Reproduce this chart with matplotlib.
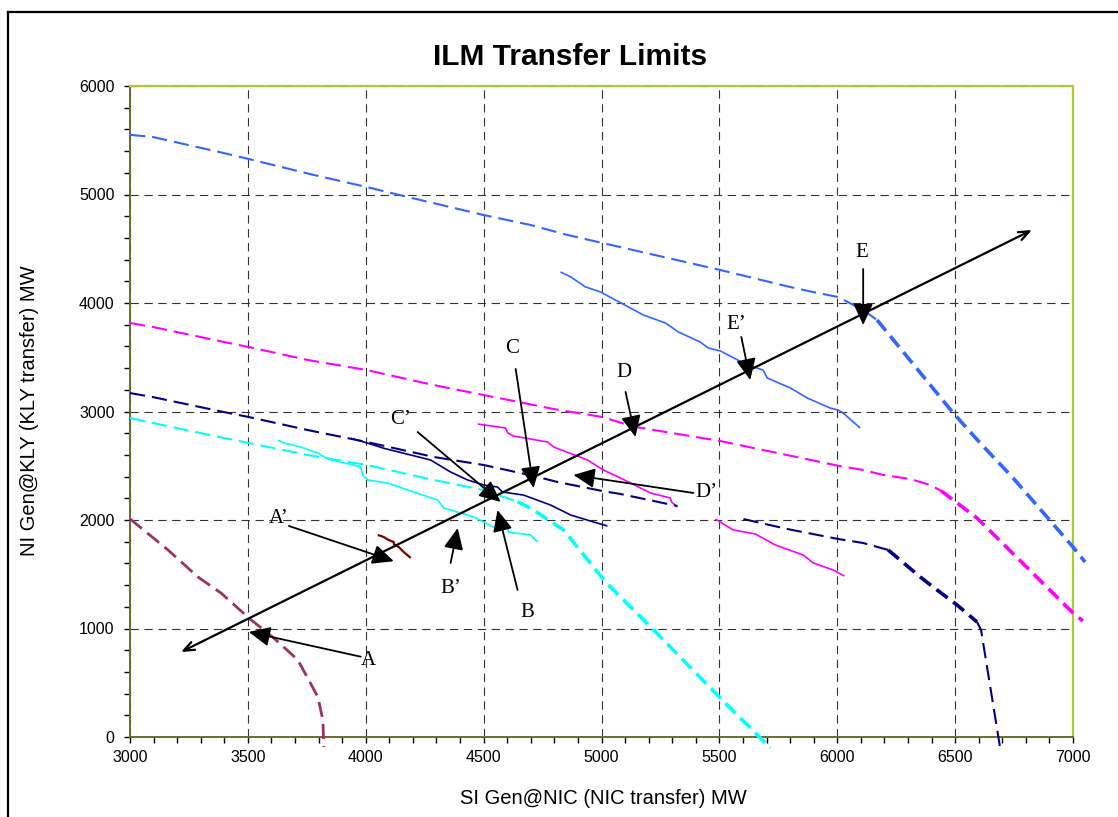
import numpy as np
import matplotlib
matplotlib.use("Agg")
import matplotlib.pyplot as plt
from matplotlib.lines import Line2D

plt.rcParams['lines.scale_dashes'] = False
plt.rcParams['font.family'] = ['Liberation Sans', 'DejaVu Sans']

# ---------------- data (MW) ----------------
# E limit (blue dashed): flat part and steep part
e_lim_x = [3000, 3097, 3398, 3504, 3780, 4004, 4161, 4500, 4699, 4856, 5004, 5504, 5801, 5898, 6004, 6110, 6169]
e_lim_y = [5550, 5530, 5382, 5327, 5180, 5069, 4986, 4811, 4719, 4627, 4553, 4304, 4147, 4101, 4055, 3935, 3843]
e_lim2_x = [6169, 6492, 6606, 6746, 7000, 7051]
e_lim2_y = [3843, 2986, 2710, 2387, 1751, 1613]
# E' limit (blue solid)
e_p_x = [4826, 4870, 4930, 4996, 5178, 5271, 5326, 5419, 5453, 5504, 5619, 5686, 5703, 5801, 5873, 5970, 6004, 6025, 6097]
e_p_y = [4286, 4240, 4150, 4101, 3889, 3816, 3733, 3640, 3585, 3558, 3428, 3382, 3309, 3217, 3124, 3032, 3014, 2986, 2848]
# D limit (magenta dashed)
d_lim_x = [3000, 3097, 3398, 3504, 3754, 4004, 4288, 4500, 4712, 4797, 5004, 5137, 5504, 6004, 6110, 6195, 6309, 6394, 6440]
d_lim_y = [3816, 3779, 3641, 3594, 3475, 3382, 3244, 3152, 3060, 3023, 2949, 2860, 2728, 2500, 2461, 2415, 2378, 2323, 2270]
d_lim2_x = [6440, 6593, 7000, 7042]
d_lim2_y = [2270, 2018, 1143, 1069]
# D' limit (magenta solid), two pieces
d_p1_x = [4475, 4593, 4602, 4627, 4771, 4797, 4941, 5008, 5080, 5208, 5292, 5297, 5322]
d_p1_y = [2885, 2848, 2802, 2774, 2719, 2673, 2553, 2461, 2387, 2249, 2203, 2166, 2120]
d_p2_x = [5483, 5559, 5653, 5737, 5856, 5898, 5983, 6030]
d_p2_y = [2009, 1908, 1871, 1770, 1677, 1604, 1539, 1484]
# C limit (navy dashed), pieces
c_lim1_x = [3000, 3097, 3398, 3504, 3754, 4004, 4288, 4500, 4712, 4814, 5004, 5080, 5322]
c_lim1_y = [3170, 3133, 2995, 2949, 2829, 2719, 2581, 2507, 2406, 2350, 2267, 2240, 2129]
c_lim2_x = [5602, 5788, 6004, 6110, 6216]
c_lim2_y = [2009, 1917, 1825, 1788, 1724]
c_lim3_x = [6216, 6352, 6407, 6508, 6593]
c_lim3_y = [1724, 1475, 1382, 1217, 1060]
c_lim4_x = [6593, 6610, 6691]
c_lim4_y = [1060, 986, -101]
# C' limit (navy solid)
c_p_x = [3936, 3993, 4078, 4191, 4275, 4360, 4432, 4500, 4559, 4580, 4669, 4784, 4869, 4966, 5025]
c_p_y = [2753, 2719, 2660, 2599, 2553, 2442, 2369, 2323, 2304, 2258, 2230, 2138, 2046, 1982, 1945]
# B limit (cyan dashed)
b_lim_x = [3000, 3097, 3398, 3504, 3754, 4004, 4288, 4500, 4585, 4644]
b_lim_y = [2940, 2894, 2756, 2710, 2599, 2507, 2369, 2276, 2212, 2170]
b_lim2_x = [4644, 4712, 4839, 5017, 5215, 5504, 5674, 5716]
b_lim2_y = [2170, 2092, 1908, 1429, 1000, 359, -9, -101]
# B' limit (cyan solid)
b_p_x = [3627, 3653, 3724, 3797, 3839, 3949, 3979, 3987, 4008, 4093, 4203, 4305, 4331, 4458, 4500, 4542, 4602, 4606, 4699, 4729]
b_p_y = [2737, 2710, 2673, 2617, 2562, 2507, 2488, 2415, 2369, 2341, 2258, 2184, 2111, 2028, 1982, 1935, 1935, 1889, 1862, 1797]
# A limit (maroon dashed)
a_lim_x = [3000, 3161, 3288, 3386, 3504, 3610, 3712, 3797, 3818, 3822]
a_lim_y = [2010, 1724, 1475, 1327, 1097, 912, 710, 369, 157, -92]
# A' limit (dark red solid)
a_p_x = [4051, 4064, 4076, 4097, 4119, 4119, 4140, 4161, 4191]
a_p_y = [1862, 1853, 1843, 1816, 1797, 1779, 1751, 1705, 1650]

# transfer direction arrow
dir_start = (3216, 783)
dir_end = (6826, 4673)

# annotation labels: text position, arrow tail, arrow tip
ann_labels = ["A", "A\u2019", "B\u2019", "B", "C\u2019", "C", "D", "D\u2019", "E\u2019", "E"]
ann_text_x = [4013, 3630, 4360, 4686, 4148, 4619, 5097, 5445, 5572, 6106]
ann_text_y = [705, 2010, 1373, 1152, 2922, 3585, 3364, 2258, 3806, 4470]
ann_tail_x = [3979, 3674, 4360, 4644, 4220, 4636, 5102, 5390, 5593, 6110]
ann_tail_y = [740, 1945, 1604, 1355, 2811, 3392, 3180, 2249, 3687, 4313]
ann_tip_x = [3504, 4119, 4390, 4559, 4572, 4712, 5144, 4881, 5631, 6110]
ann_tip_y = [968, 1620, 1926, 2092, 2166, 2295, 2765, 2415, 3290, 3797]

x_ticks = [3000, 3500, 4000, 4500, 5000, 5500, 6000, 6500, 7000]
y_ticks = [0, 1000, 2000, 3000, 4000, 5000, 6000]

# ---------------- figure ----------------
fig = plt.figure(figsize=(11.18, 8.17), dpi=100)
ax = fig.add_axes([130 / 1118, 1 - 737 / 817, (1073 - 130) / 1118, (737 - 86) / 817])

BLUE = '#3366FF'
MAG = '#FF00FF'
NAVY = '#000080'
CYAN = '#00FFFF'
MAROON = '#993366'
DRED = '#800000'

thin_d = (0, (11, 5))
thick_d = (0, (10, 5))

def dline(x, y, c, lw, ls):
    ax.plot(x, y, color=c, lw=lw, ls=ls, clip_on=False, zorder=3, solid_capstyle='butt', dash_capstyle='butt')

dline(e_lim_x, e_lim_y, BLUE, 1.5, thin_d)
dline(e_lim2_x, e_lim2_y, BLUE, 2.6, thick_d)
dline(e_p_x, e_p_y, BLUE, 1.2, '-')
dline(d_lim_x, d_lim_y, MAG, 1.5, thin_d)
dline(d_lim2_x, d_lim2_y, MAG, 2.6, thick_d)
dline(d_p1_x, d_p1_y, MAG, 1.2, '-')
dline(d_p2_x, d_p2_y, MAG, 1.2, '-')
dline(c_lim1_x, c_lim1_y, NAVY, 1.5, thin_d)
dline(c_lim2_x, c_lim2_y, NAVY, 1.5, thin_d)
dline(c_lim3_x, c_lim3_y, NAVY, 2.6, thick_d)
dline(c_lim4_x, c_lim4_y, NAVY, 1.5, thin_d)
dline(c_p_x, c_p_y, NAVY, 1.2, '-')
dline(b_lim_x, b_lim_y, CYAN, 1.5, thin_d)
dline(b_lim2_x, b_lim2_y, CYAN, 2.6, thick_d)
dline(b_p_x, b_p_y, CYAN, 1.2, '-')
dline(a_lim_x, a_lim_y, MAROON, 2.0, thin_d)
dline(a_p_x, a_p_y, DRED, 1.6, '-')

# transfer direction arrow
ax.annotate('', xy=dir_end, xytext=dir_start,
            arrowprops=dict(arrowstyle='<->,head_length=0.55,head_width=0.22', mutation_scale=14,
                            lw=1.6, color='black', shrinkA=0, shrinkB=0), zorder=5)

for lab, tx, ty, sx, sy, ex, ey in zip(ann_labels, ann_text_x, ann_text_y, ann_tail_x, ann_tail_y, ann_tip_x, ann_tip_y):
    ax.annotate('', xy=(ex, ey), xytext=(sx, sy),
                arrowprops=dict(arrowstyle='-|>,head_length=0.65,head_width=0.3', mutation_scale=20,
                                lw=1.3, color='black', shrinkA=0, shrinkB=0), zorder=5)
    ax.text(tx, ty, lab, fontsize=15, family=['Liberation Serif', 'DejaVu Serif'],
            ha='center', va='center', zorder=6)

ax.set_xlim(3000, 7000)
ax.set_ylim(0, 6000)
ax.set_xticks(x_ticks)
ax.set_yticks(y_ticks)
ax.set_xticks(np.arange(3000, 7001, 100), minor=True)
ax.set_yticks(np.arange(0, 6001, 200), minor=True)
ax.tick_params(which='both', direction='out', length=4, width=1, color='black')
ax.tick_params(axis='x', which='major', labelsize=11.5, pad=5)
ax.tick_params(axis='y', which='major', labelsize=11.5, pad=7)
ax.grid(True, which='major', ls=(0, (6, 4)), color='#333333', lw=0.8)
ax.set_axisbelow(True)

for s in ['left', 'bottom']:
    ax.spines[s].set_color('#6B6B2A')
    ax.spines[s].set_linewidth(1.4)
for s in ['top', 'right']:
    ax.spines[s].set_color('#A8CC33')
    ax.spines[s].set_linewidth(1.6)

fig.text(570 / 1118, 1 - 57 / 817, 'ILM Transfer Limits', fontsize=21.5, fontweight='bold',
         ha='center', va='center')
fig.text(603 / 1118, 1 - 799 / 817, 'SI Gen@NIC (NIC transfer) MW', fontsize=14.5,
         ha='center', va='center')
fig.text(30 / 1118, 1 - 411 / 817, 'NI Gen@KLY (KLY transfer) MW', fontsize=14.5,
         ha='center', va='center', rotation=90)

# outer chart border (top and left edges visible)
fig.add_artist(Line2D([8 / 1118, 1.0], [1 - 12 / 817, 1 - 12 / 817], color='black', lw=1.6,
                      transform=fig.transFigure))
fig.add_artist(Line2D([8 / 1118, 8 / 1118], [0, 1 - 12 / 817], color='black', lw=1.6,
                      transform=fig.transFigure))

fig.savefig('out.png', dpi=100)
